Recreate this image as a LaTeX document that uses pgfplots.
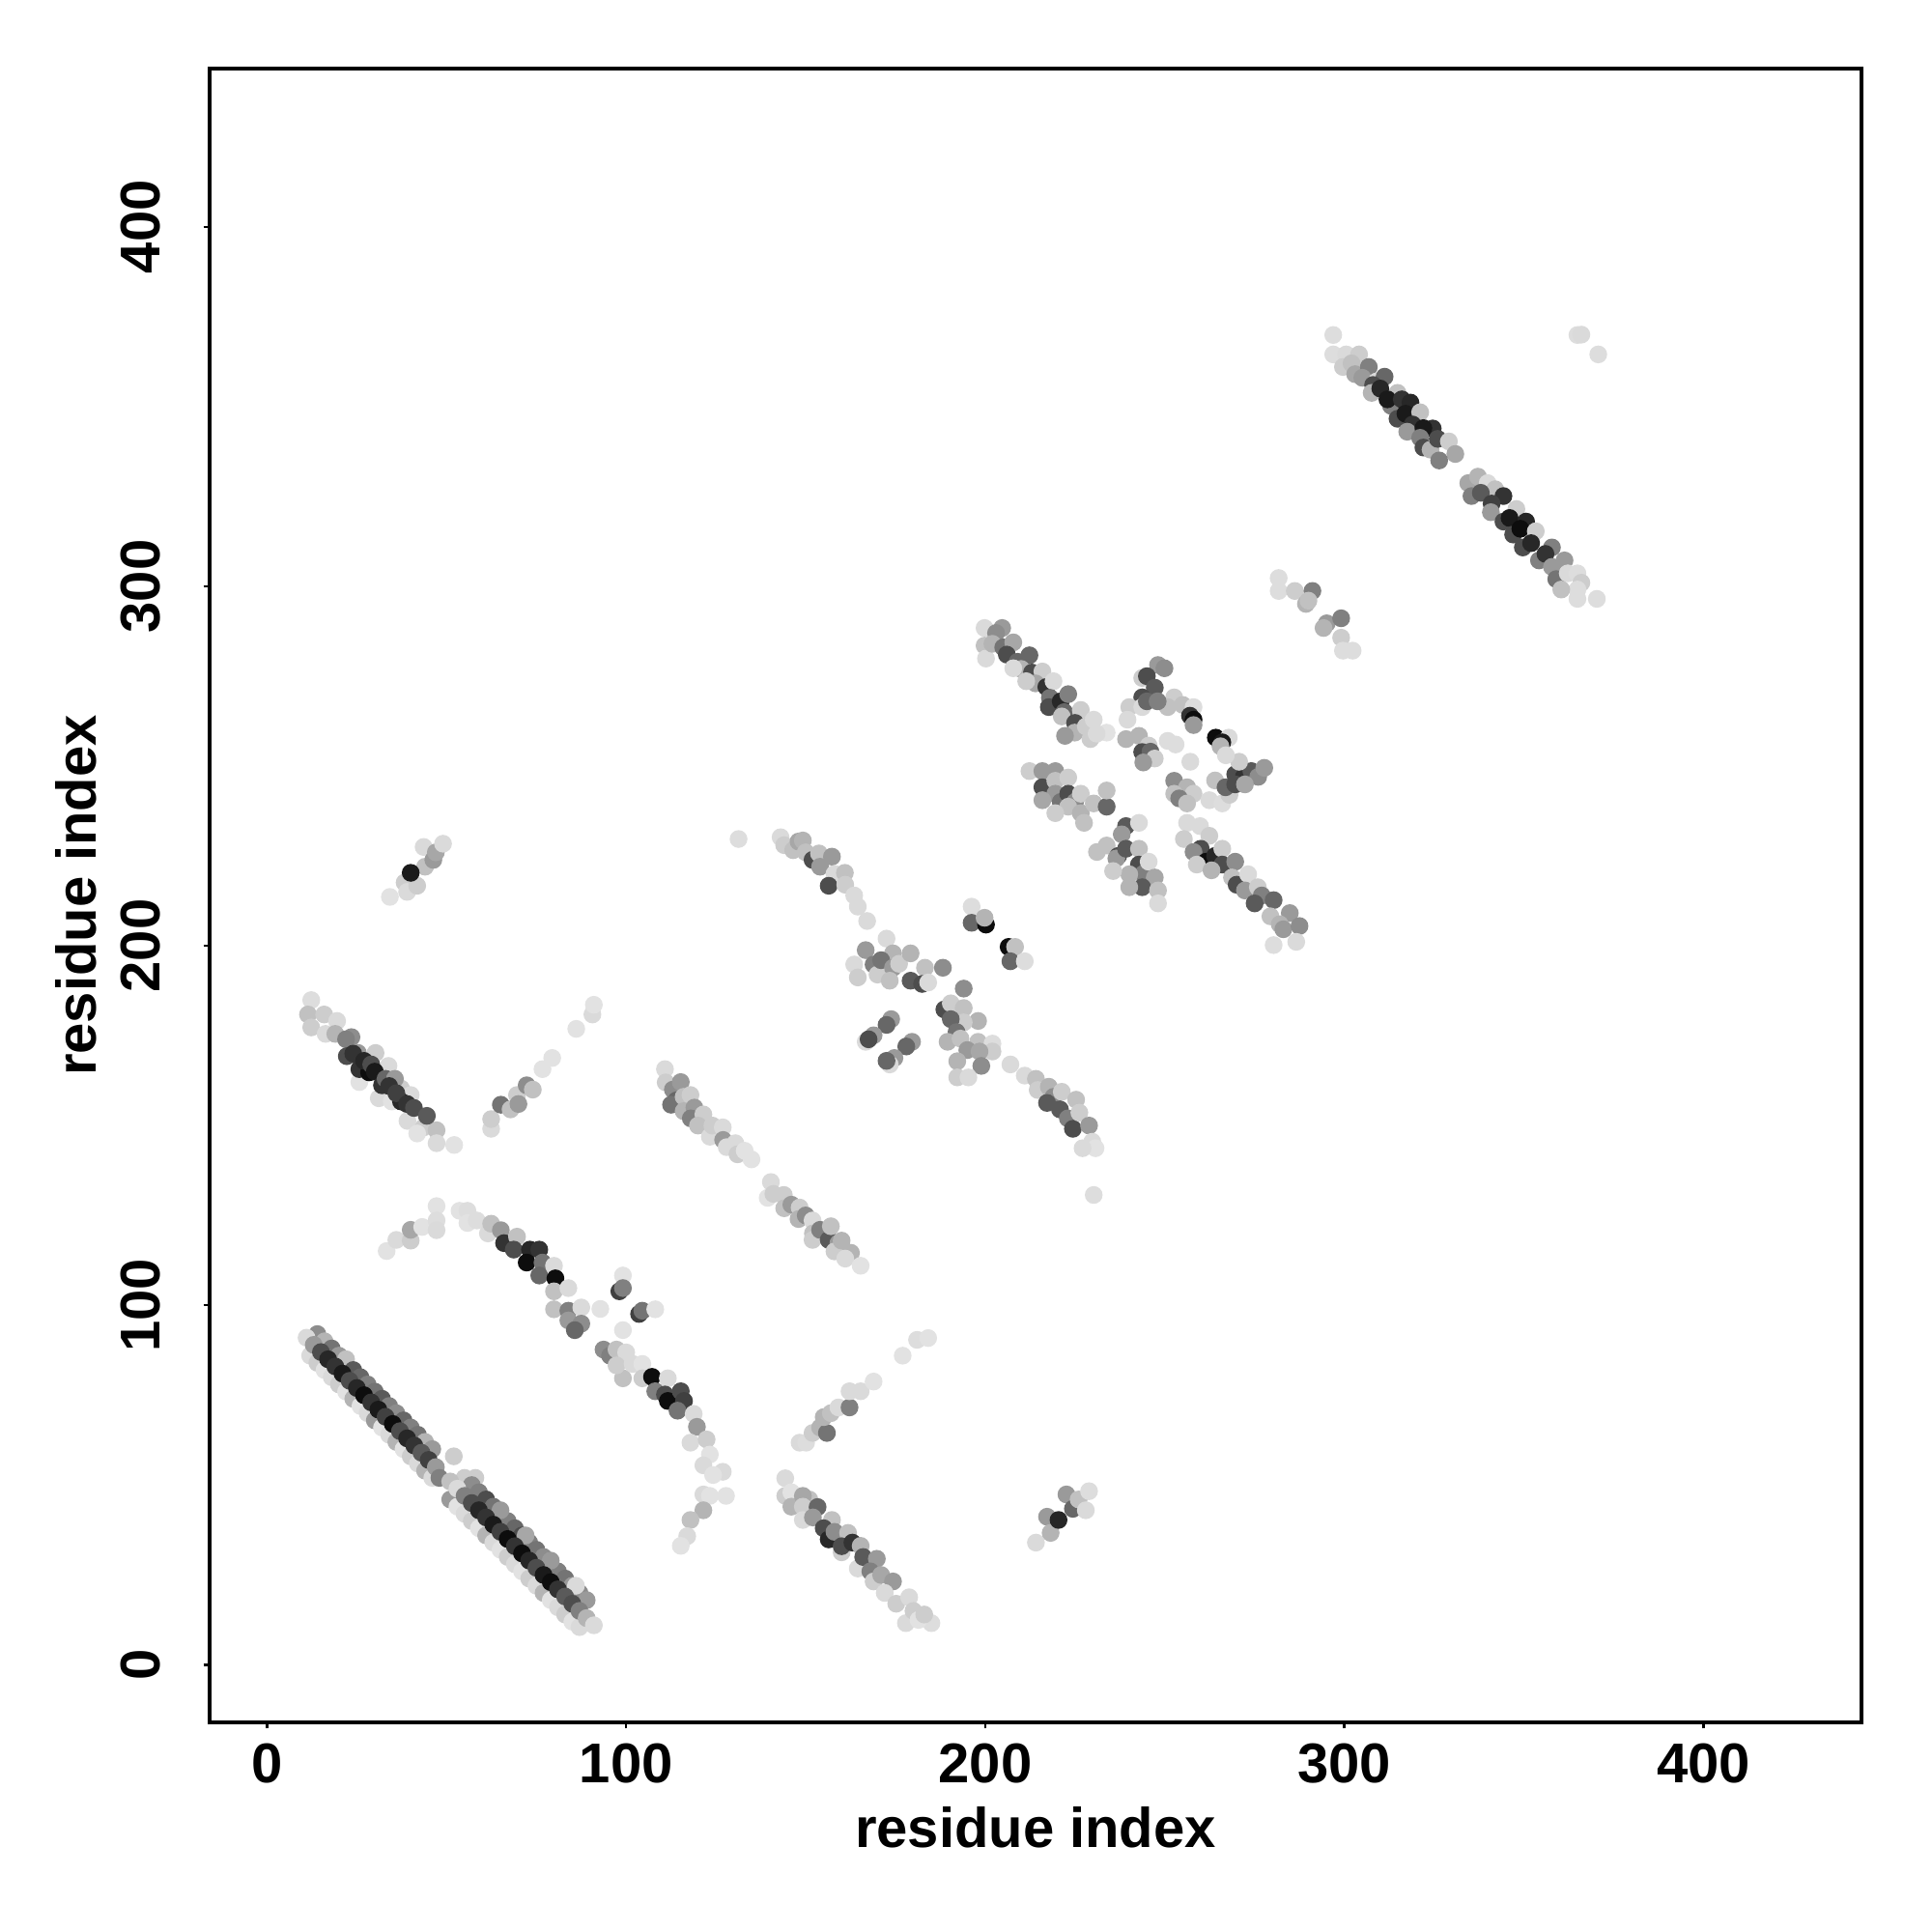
\documentclass[border=0pt]{standalone}
\usepackage{pgfplots}
\pgfplotsset{compat=1.18}
\usepackage{fontspec}
\setmainfont{Liberation Sans}

\pgfplotsset{
  colormap={grays}{gray(0cm)=(0); gray(1cm)=(1)},
  cm/.style={only marks, scatter, mark=*, mark size=2.1pt, point meta=explicit,
    scatter/use mapped color={draw=mapped color, fill=mapped color}},
}

\begin{document}
\begin{tikzpicture}
\path[use as bounding box] (-54.25pt,-54.25pt) rectangle (445.75pt,445.75pt);
\begin{axis}[
  scale only axis, width=427.5pt, height=428pt,
  xmin=-16, xmax=444, ymin=-16, ymax=444,
  xtick={0,100,200,300,400}, ytick={0,100,200,300,400},
  xtick pos=bottom, ytick pos=left,
  tick align=outside, major tick length=1.6pt,
  tick style={black, line width=0.6pt},
  axis line style={line width=1.2pt},
  colormap name=grays, point meta min=0, point meta max=1,
  /pgf/number format/assume math mode=true,
  every tick label/.append style={font=\fontsize{14.5}{17}\selectfont\bfseries},
  xticklabel style={inner sep=0pt, anchor=north, yshift=-3.75pt},
  yticklabel style={xshift=-11.25pt, rotate=90, anchor=base},
  label style={font=\fontsize{14.5}{17}\selectfont\bfseries},
  xlabel={residue index}, ylabel={residue index},
  xlabel style={at={(axis description cs:0.5,-0.0754)}, anchor=base},
  ylabel style={at={(axis description cs:-0.069,0.5)}, anchor=base, rotate=0},
]

% band near x+y=101
\addplot[cm] table[meta=g] {
x y g
12 86 .85
14 84 .8
16 82 .88
18 80 .85
20 78 .8
22 76 .88
24 74 .7
26 72 .88
28 70 .85
30 68 .6
32 66 .88
34 64 .85
36 62 .7
38 60 .88
40 58 .8
42 56 .85
44 54 .7
46 52 .85
14 92 .55
16 90 .7
18 88 .45
20 86 .6
22 85 .75
24 82 .35
26 80 .4
28 78 .5
30 76 .45
32 74 .35
34 72 .5
36 70 .55
38 68 .4
40 66 .5
42 64 .45
44 62 .7
46 60 .6
11 91 .85
13 89 .6
15 87 .3
17 85 .15
19 83 .2
21 81 .1
23 79 .3
25 77 .15
27 75 .05
29 73 .2
31 71 .1
33 69 .25
35 67 .05
37 65 .3
39 63 .15
41 61 .2
43 59 .35
45 57 .25
47 55 .6
48 52 .5
52 58 .8
58 52 .8
51 46 .6
53 44 .88
55 42 .85
57 40 .8
59 38 .88
61 36 .7
63 34 .85
65 32 .88
67 30 .8
69 28 .85
71 26 .88
73 24 .8
75 22 .85
77 20 .7
79 18 .88
81 16 .85
83 14 .8
85 12 .88
87 10.5 .85
55 52 .8
57 50 .55
59 48 .5
61 46 .3
63 44 .45
65 42 .35
67 40 .5
69 38 .4
71 36 .3
73 34 .5
75 32 .45
77 30 .55
79 28 .4
81 26 .5
83 24 .45
85 22 .6
87 20 .55
89 18 .6
65 43 .6
72 36 .65
79 29 .6
86 22 .85
51 51 .75
53 49 .85
55 47 .5
57 45 .3
59 43 .15
61 41 .2
63 39 .1
65 37 .25
67 35 .05
69 33 .2
71 31 .05
73 29 .15
75 27 .3
77 25 .1
79 23 .05
81 21 .2
83 19 .35
85 17 .3
87 15 .5
89 13 .7
91 11 .85
};

% arc
\addplot[cm] table[meta=g] {
x y g
33.3 115.1 .88
36 118.2 .85
40 118 .8
40 121 .65
43.2 121.8 .88
47.2 127.6 .88
47.2 123.6 .86
47.2 120.9 .85
53.6 126.3 .88
55.8 126.3 .86
55.8 122.9 .88
58.4 123.6 .86
61.5 120 .85
62.4 122.7 .75
65.1 120.9 .6
66 117.3 .2
69.6 119.1 .75
68.7 115.5 .3
73.2 115.5 .15
72.3 111.9 .05
75.8 115.5 .2
76.7 111.9 .45
75.8 108.3 .4
79.9 111 .85
80.3 107.5 .05
79.9 103.9 .75
83.9 104.8 .85
79.9 98.9 .75
83.9 98.5 .5
87.5 99.4 .85
83.9 95.8 .6
87.5 94.9 .55
85.7 93.1 .4
92.8 99 .88
99.1 108.3 .88
98.1 103.9 .25
99.1 104.8 .5
103.6 97.6 .25
104.5 98.5 .45
108.1 98.9 .88
99.1 93.1 .88
93.7 87.7 .55
95.5 86 .5
97.3 87.7 .75
100 86.9 .85
99.1 79.7 .75
97.3 83.3 .8
101.8 83.7 .85
104.5 83.7 .88
104.5 79.7 .8
107.2 80.1 .05
108.1 76.1 .5
111.6 79.7 .85
110.8 75.2 .3
111.6 73.4 .05
115.2 76.1 .3
116.1 73.4 .25
114.3 70.7 .45
118.8 69.8 .85
119.7 66.2 .6
117.9 61.8 .85
122.4 62.7 .8
123.3 58.5 .88
121.5 55.5 .85
126.9 53.7 .85
124.2 52.8 .88
127.8 47 .88
121.5 47.4 .85
123.3 47 .88
121.5 43 .7
117.9 40.3 .75
117 35.8 .85
115.2 33.1 .88
};

% upper left group
\addplot[cm] table[meta=g] {
x y g
34.2 213.6 .88
38.3 217.6 .8
39 215 .85
41.8 216.7 .8
44 222 .75
40 220.3 .1
43.6 227.5 .85
46.3 223.9 .6
47 226 .65
49 228.4 .85
12.3 184.9 .86
11.4 180.9 .75
12.3 177.3 .8
15.9 180.9 .8
19.5 179.1 .85
16.3 175.5 .85
19 175.5 .7
23.5 174.6 .55
22 174 .5
25.3 170.2 .6
30.2 170.2 .8
25.7 162.1 .88
33.8 166.6 .85
31.1 157.6 .85
37.3 160.3 .8
34.7 156.7 .88
40 158.5 .85
39.1 151.3 .85
43.6 149.5 .8
47.2 148.7 .75
47.2 145.1 .85
41.8 147.8 .88
52.1 144.6 .88
22.2 169.3 .3
24 170 .2
25.7 165.7 .2
28.4 164.8 .05
27 168 .15
29 167 .3
30 165 .1
32 161.2 .2
33 163 .4
35.6 163 .6
34 161 .2
37.3 156.7 .15
36 159 .25
39 156 .2
40.9 154.9 .3
44.5 152.7 .35
62.4 149.1 .85
62.4 151.8 .8
65.1 155.8 .45
67.8 154.5 .75
69.6 158.5 .8
70 156 .6
72.3 161.2 .55
74 160 .75
76.7 165.7 .88
79.4 168.8 .88
86.1 176.9 .88
90.6 180.9 .85
91 183.6 .88
};

% middle diagonal groups
\addplot[cm] table[meta=g] {
x y g
131.3 229.7 .86
143 230.2 .85
144 228 .8
146.5 226.6 .75
148 229 .65
149.2 229.3 .7
150 226 .75
151.9 223.9 .3
153.7 225.7 .75
154 222 .6
157.3 224.8 .6
158 220 .85
156.4 216.7 .3
160.9 220.3 .75
161 217 .8
163.5 214 .85
167.1 206.9 .85
110.8 165.7 .85
111 162 .8
113 160 .55
115.2 162.1 .6
114 157 .4
112.5 155.8 .45
116 158 .75
117.9 158.5 .8
116 154 .7
119 155 .6
118 152 .5
121.5 153.1 .8
120 150 .75
125 148 .55
123.3 146.9 .85
124 150 .8
126.9 149.5 .85
127 146 .6
128 144 .85
130.4 145.1 .85
131 142 .8
133 143 .88
134.9 140.6 .88
139.4 129.9 .88
140.3 134.3 .85
141 131 .8
143.9 130.7 .8
144 127 .75
146 128 .6
148.3 127.2 .8
148 124 .7
150 125 .55
151.9 123.6 .85
152 120 .75
151.9 118.2 .8
154 121 .5
156.4 118.2 .35
157 122 .75
159.1 117.3 .6
158 115 .8
160 118 .7
162.6 114.6 .7
161 113 .85
165.3 111 .88
};

% lower middle groups
\addplot[cm] table[meta=g] {
x y g
148.3 61.8 .85
150.1 61.8 .86
151.9 64.5 .8
154 66 .7
155.9 64.5 .45
155 68.9 .7
157 70 .75
159.1 71.6 .85
162.2 71.6 .5
162.2 76.1 .85
165.3 76.1 .85
168.9 78.8 .88
177 86 .88
181 90.4 .86
184.1 90.9 .88
144.3 51.9 .85
144.3 47 .8
146 48 .88
146 44 .7
151 46 .75
149.2 47 .65
149.2 44 .8
149.2 40.3 .85
153.3 43.9 .4
152 41 .6
157.3 40.3 .75
155 38 .3
156.4 34.9 .15
158 37 .55
161.8 36.7 .75
160 31.3 .8
160 33 .3
163 34 .2
165.3 33.1 .7
164.5 26.8 .85
166 30 .35
169.8 29.5 .6
168 26 .5
168.9 23.2 .8
171 25 .65
174.3 23.2 .6
172 20 .85
175.2 17 .8
178.8 18.8 .85
177.9 11.6 .85
180 15 .8
185 11.6 .86
181.4 12.5 .88
183 14 .8
214.1 34 .85
217.2 41.2 .6
218.2 36.7 .7
220.4 40.3 .15
222.6 47.4 .6
224.4 43.4 .4
226 46 .75
228.9 48.3 .86
228 43 .85
};

% central cross
\addplot[cm] table[meta=g] {
x y g
196.2 210.9 .86
196.2 206.4 .4
200.2 205.9 .05
199.8 207.8 .7
206.5 199.7 .05
208.3 199.7 .75
207 195.7 .4
211 195.7 .86
164.5 210.9 .85
163.5 194.8 .85
164.5 191.2 .8
166.7 198.8 .6
168.9 194.8 .5
170 192 .8
172.5 202 .85
174.3 197.9 .7
171 196 .45
174.3 193.9 .6
173.4 190.3 .75
176 195 .8
179.2 197.9 .7
183.2 193.9 .75
188.2 193.9 .55
179.2 190.3 .35
182.4 189.4 .3
184.1 189.8 .85
173.8 179.6 .6
172.5 178 .4
168.9 175.1 .6
166.7 173.3 .85
167.5 174 .3
179.6 173.3 .6
178 172 .4
174.7 168.8 .6
173.4 167 .85
172.5 168 .4
194 188.1 .55
188.6 182.3 .3
190.4 184 .8
194 182.7 .75
198 179.1 .7
194 178.7 .8
190.4 179.6 .4
192 176 .45
189.5 173.3 .7
193.1 174.2 .75
198 173.3 .75
202 172.8 .86
202 170.6 .8
195 171 .6
198.4 170.6 .65
198.9 166.6 .55
192.2 167.9 .7
192.2 163.4 .8
195.3 163.4 .85
207 167 .85
211 163.9 .85
214.1 163 .75
214.6 159.9 .8
217.7 160.8 .7
219 158 .55
217.2 156.3 .35
221.3 159.4 .8
220.8 154.5 .35
223 152 .5
225.3 157.2 .75
224.4 149.1 .3
226.2 153.6 .8
228.9 150 .6
229.8 145.5 .85
230.7 143.7 .88
227.1 143.7 .85
230.2 130.7 .86
};

% X-shaped group
\addplot[cm] table[meta=g] {
x y g
199.8 288.4 .85
204.7 288.4 .6
203 287 .55
199.8 283.5 .75
200.2 279.9 .85
202 284 .7
205 283 .45
207.8 284.4 .65
206 281 .3
209 279 .4
212.3 280.8 .4
210 277 .7
207.8 277.2 .85
213 276 .3
215.9 276.3 .8
214 273 .65
211.4 273.6 .8
217 272 .2
219 273.6 .85
218 269 .45
217.7 266.4 .3
221 268 .15
223.1 270 .5
222 265 .4
221.3 263.8 .75
226.6 265.6 .8
225 262 .3
224.9 259.3 .7
228 261 .8
230.2 262.9 .85
229.3 257.5 .8
233.8 259.3 .88
222.2 258.4 .6
231 259 .85
248.1 278.1 .6
249.9 277.2 .55
243.7 274.5 .8
245 275 .3
247.2 271.8 .35
243.7 269.1 .3
240.1 266.4 .8
252.6 269.1 .8
250.8 266.4 .75
243.7 266.4 .85
239.6 262.9 .85
245 268 .4
248 268 .5
255 267 .75
258 266.4 .86
257 264 .2
258 262.9 .05
258 261.4 .6
264.2 257.9 .05
267.8 257.9 .85
266 256.6 .1
265.5 255.5 .7
239.2 257.5 .7
242.8 258.4 .7
245.5 255.7 .8
250.8 257 .86
253 256 .86
243.7 253.9 .3
246 254 .4
247.2 252.1 .8
244 251 .6
257.1 251.2 .85
252.6 245.9 .55
256.2 244.1 .7
258 242.3 .8
252.6 242.3 .75
254 241 .5
256.2 239.6 .75
262.4 240.5 .85
266 239.6 .86
264 246 .75
268 242 .8
266.9 244.1 .4
269.6 247.7 .3
272 247 .2
274.1 248.6 .35
276 247 .55
277.7 249.5 .6
270.7 251.2 .8
267 253 .85
269.6 244.9 .3
272.3 244.9 .65
212.3 248.6 .8
215.9 248.6 .6
219.5 248.6 .6
215.9 244.1 .3
219.5 245.9 .75
223.1 246.8 .8
219.5 242.3 .6
221 240 .45
215.9 240.5 .65
223.1 242.3 .3
225 240 .55
226.6 242.3 .8
223.1 238.7 .75
226.6 236.9 .7
219.5 236.9 .8
227.5 234.2 .75
230.2 239.6 .75
233.8 238.7 .4
233.8 243.2 .75
239.2 233.3 .35
242.8 234.2 .85
238 231 .6
233.8 227.9 .75
231.1 226.1 .75
237 225 .3
236.5 224.3 .6
239.2 227 .35
242.8 227 .75
242.8 222.6 .3
244 220 .5
240.1 219.9 .7
235.6 220.8 .8
245.5 223.4 .85
247.2 219 .65
243.7 216.3 .35
240.1 216.3 .7
248.1 215.4 .75
248.1 211.8 .85
256.2 234.2 .85
259.8 233.3 .85
255.3 229.7 .8
262.4 230.6 .8
260 227 .3
258 226.1 .55
261.5 223.4 .05
258.9 222.6 .8
264 225 .15
266 227 .8
266 222.6 .3
263 221 .7
269.6 223.4 .55
268.7 219 .75
270 217 .3
273.2 219.9 .85
272.3 215.4 .6
275.9 216.3 .8
277 214 .5
275 211.8 .35
280.3 212.7 .4
279.4 208.2 .75
284.8 209.1 .6
282 206 .7
283 204.6 .6
287.5 205.5 .55
286.6 201.1 .85
280.3 200.2 .86
};

% upper right group
\addplot[cm] table[meta=g] {
x y g
296.9 369.9 .86
296.9 364.5 .86
300.5 364.5 .85
304.1 364.5 .8
299.6 361 .8
302 362 .75
303 359 .65
306.8 361 .5
305 358 .6
309 357 .85
311.2 358.3 .4
308 356 .3
307.6 353.8 .7
310 355 .15
313 350.2 .5
314.8 353.8 .75
312 352 .1
316 352 .2
318.4 351.1 .15
314.8 346.6 .3
317 348 .1
321.1 348.4 .75
319 345 .2
324.6 343.9 .2
317.5 343 .6
322 344 .1
321.1 341.3 .5
322 338.6 .3
324 338 .7
326 341 .3
329.1 340.3 .8
330.9 336.8 .65
326.4 335 .5
334.5 328.7 .65
337.2 330.5 .7
339.9 328.7 .85
342 327 .75
335.4 325.1 .5
338 326 .35
344.3 325.1 .2
341 323 .25
340.8 320.6 .6
347.9 321.5 .8
344.3 318 .3
346 319 .1
350.6 318 .15
347 314.4 .3
349 316 .05
353.3 315.3 .8
349.7 310.8 .3
352 312 .15
357.8 310.8 .5
354.2 307.2 .5
356 309 .2
361.3 307.2 .6
357.8 305.4 .6
359 302 .45
362.2 303.6 .85
364.9 303.6 .86
366 301 .8
364.9 299.1 .86
360.4 299.1 .75
364.9 296.5 .86
370.3 296.5 .86
364.9 369.9 .86
366 370 .85
370.7 364.5 .86
281.7 302.3 .86
281.7 298.7 .86
286.2 298.7 .8
291.1 298.7 .5
289.3 295.1 .7
290 296 .75
295.1 289.7 .6
299.1 291.1 .5
294.2 288.4 .7
299.1 285.7 .8
299.6 282.1 .86
302.3 282.1 .86
};

\end{axis}
\end{tikzpicture}
\end{document}
